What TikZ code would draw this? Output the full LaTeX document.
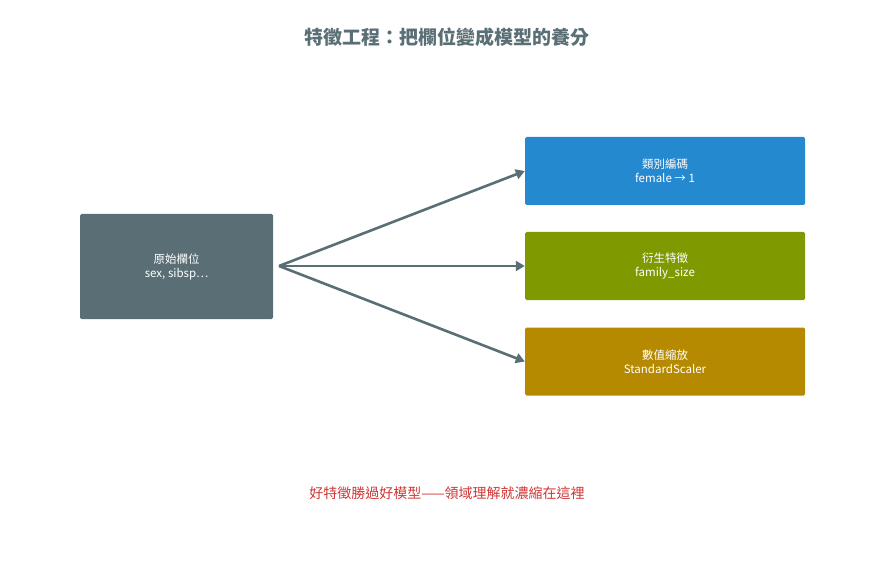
\documentclass[tikz,border=0pt]{standalone}
\usepackage{fontspec}
\setmainfont{Noto Sans CJK TC}
\usetikzlibrary{arrows.meta}
\definecolor{slate}{HTML}{5A6E75}
\definecolor{cblue}{HTML}{2589D0}
\definecolor{colive}{HTML}{7F9A00}
\definecolor{cgold}{HTML}{B58A00}
\definecolor{cred}{HTML}{D03535}
\tikzset{box/.style={draw=none,rounded corners=1.5pt,text=white,align=center,font=\fontsize{11.5}{14}\selectfont,inner sep=0pt},
conn/.style={draw=slate,line width=2.6pt,-{Triangle[length=9pt,width=10pt]}}}
\begin{document}
\begin{tikzpicture}[x=1pt,y=-1pt]
\useasboundingbox (0,0) rectangle (894,564);
\node[font=\fontsize{19}{22}\selectfont\bfseries,text=slate] (t) at (447,37) {特徵工程：把欄位變成模型的養分};
\node[box,fill=slate,minimum width=193pt,minimum height=105pt] (src) at (176.5,266.5) {原始欄位\\sex, sibsp…};
\node[box,fill=cblue,minimum width=280pt,minimum height=68pt] (a) at (665,171) {類別編碼\\female → 1};
\node[box,fill=colive,minimum width=280pt,minimum height=68pt] (b) at (665,266) {衍生特徵\\family\_size};
\node[box,fill=cgold,minimum width=280pt,minimum height=68pt] (c) at (665,361.5) {數值縮放\\StandardScaler};
\coordinate (o) at (279,266);
\draw[conn] (o) -- (a.west);
\draw[conn] (o) -- (b.west);
\draw[conn] (o) -- (c.west);
\node[font=\fontsize{14}{17}\selectfont,text=cred] (f) at (447,493) {好特徵勝過好模型——領域理解就濃縮在這裡};
\end{tikzpicture}
\end{document}
